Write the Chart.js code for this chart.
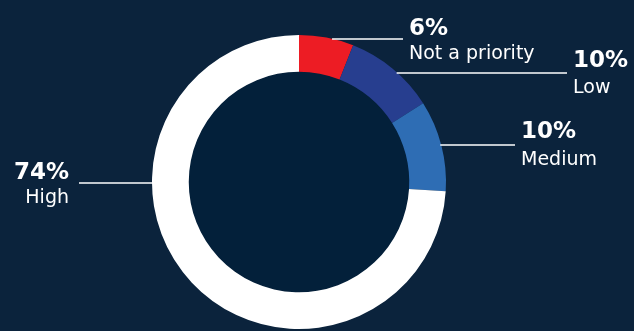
<!DOCTYPE html>
<html>
<head>
<meta charset="utf-8">
<script src="https://cdn.jsdelivr.net/npm/chart.js@4/dist/chart.umd.min.js"></script>
<style>
  html, body { margin: 0; padding: 0; background: #0b233c; }
  #wrap { width: 634px; height: 331px; }
</style>
</head>
<body>
<div id="wrap"><canvas id="myChart" width="634" height="331"></canvas></div>
<script>
const labels = ["Not a priority", "Low", "Medium", "High"];
const values = [6, 10, 10, 74];
const colors = ["#ed1c24", "#273e8f", "#2e6db4", "#ffffff"];

// where each callout sits (layout only)
const callouts = [
  { lineY: 39, endX: 403, textX: 409, side: "right", up: 4 },
  { lineY: 73, endX: 567, textX: 573, side: "right", up: 6 },
  { lineY: 145, endX: 515, textX: 521, side: "right", up: 7 },
  { lineY: 183, endX: 79, textX: 69, side: "left", up: 4 },
];

const calloutPlugin = {
  id: "callouts",
  beforeDatasetsDraw(chart) {
    const arc = chart.getDatasetMeta(0).data[0];
    const ctx = chart.ctx;
    ctx.save();
    ctx.fillStyle = "#03203a";
    ctx.beginPath();
    ctx.arc(arc.x, arc.y, arc.innerRadius, 0, Math.PI * 2);
    ctx.fill();
    ctx.restore();
  },
  afterDatasetsDraw(chart) {
    const ctx = chart.ctx;
    const meta = chart.getDatasetMeta(0);
    meta.data.forEach((arc, i) => {
      const c = callouts[i];
      const dy = c.lineY - arc.y;
      const dx = Math.sqrt(Math.max(arc.outerRadius ** 2 - dy * dy, 0));
      const startX = c.side === "right" ? arc.x + dx - 1 : arc.x - dx + 1;
      ctx.save();
      ctx.strokeStyle = "#ffffff";
      ctx.lineWidth = 1.3;
      ctx.beginPath();
      ctx.moveTo(startX, c.lineY);
      ctx.lineTo(c.endX, c.lineY);
      ctx.stroke();

      ctx.fillStyle = "#ffffff";
      ctx.textAlign = c.side === "right" ? "left" : "right";
      ctx.textBaseline = "alphabetic";
      ctx.font = "bold 23px 'DejaVu Sans', sans-serif";
      ctx.fillText(values[i] + "%", c.textX, c.lineY - c.up);
      ctx.font = "19px 'DejaVu Sans', sans-serif";
      ctx.fillText(labels[i], c.textX, c.lineY + 20);
      ctx.restore();
    });
  },
};

new Chart(document.getElementById("myChart"), {
  type: "doughnut",
  data: {
    labels: labels,
    datasets: [
      {
        data: values,
        backgroundColor: colors,
        borderWidth: 0,
      },
    ],
  },
  options: {
    responsive: false,
    animation: false,
    cutout: "75%",
    layout: {
      padding: { left: 152, right: 188, top: 35, bottom: 2 },
    },
    plugins: {
      legend: { display: false },
      tooltip: { enabled: false },
    },
  },
  plugins: [calloutPlugin],
});
</script>
</body>
</html>
